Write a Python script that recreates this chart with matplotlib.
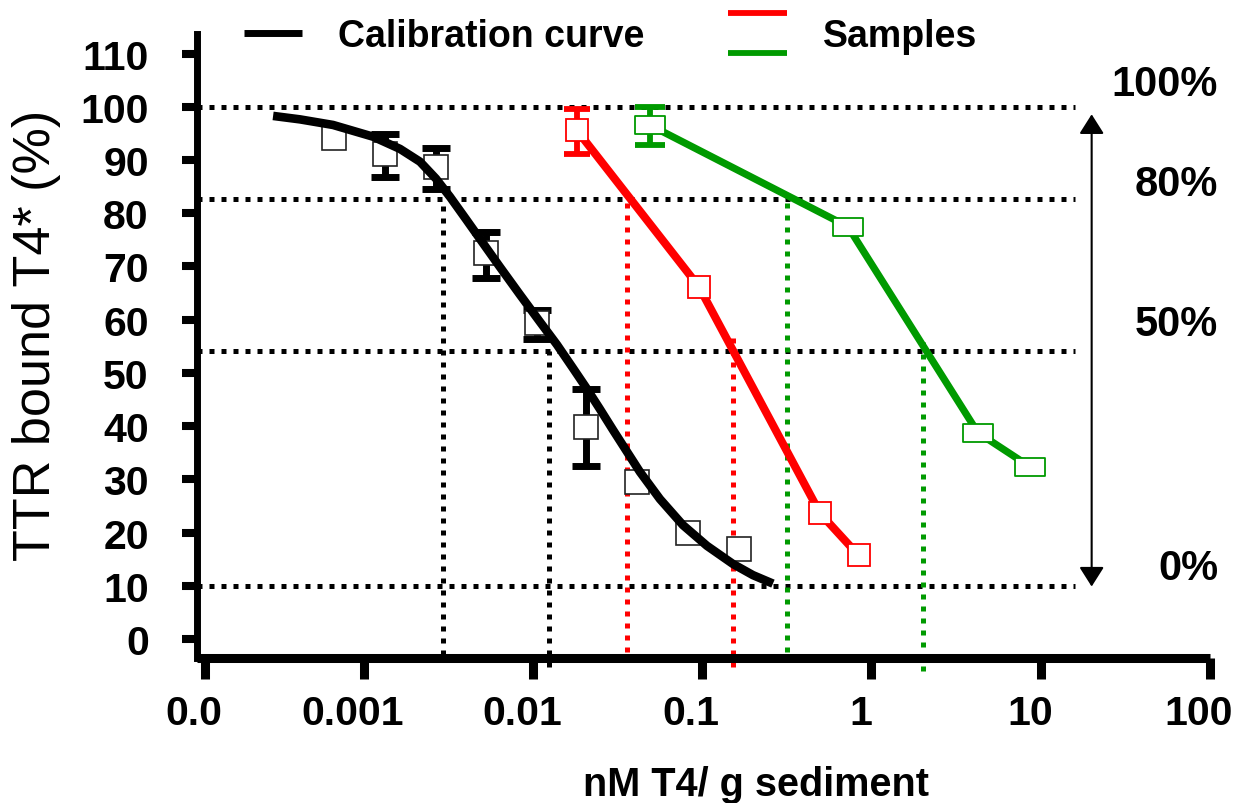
import numpy as np
import matplotlib
matplotlib.use("Agg")
import matplotlib.pyplot as plt
from matplotlib.lines import Line2D
from matplotlib.path import Path
from matplotlib.legend_handler import HandlerBase
from matplotlib.transforms import ScaledTranslation

plt.rcParams['font.family'] = ['Liberation Sans', 'DejaVu Sans']

# ---- data ------------------------------------------------------------------
# calibration standards (open squares) and their error bars
cal_x = [6.66e-4, 1.33e-3, 2.68e-3, 5.28e-3, 1.06e-2, 2.07e-2, 4.14e-2, 8.28e-2, 0.166]
cal_y = [94.2, 91.1, 88.7, 72.5, 59.3, 39.9, 29.5, 19.9, 16.9]
cal_err_lo = [0, 4.3, 4.1, 4.6, 2.9, 7.4, 0, 0, 0]
cal_err_hi = [0, 3.8, 3.5, 4.0, 2.5, 7.0, 0, 0, 0]

# fitted calibration curve
curve_x = [2.92e-4, 4.21e-4, 6.60e-4, 1.136e-3, 1.641e-3, 2.153e-3, 2.677e-3,
           3.238e-3, 4.025e-3, 5.07e-3, 6.39e-3, 8.39e-3, 1.101e-2, 1.388e-2,
           1.725e-2, 2.087e-2, 2.49e-2, 2.972e-2, 3.595e-2, 4.29e-2, 5.63e-2,
           7.7e-2, 0.1068, 0.152, 0.1995, 0.262]
curve_y = [98.3, 97.65, 96.6, 94.4, 92.1, 89.7, 86.5,
           83.1, 78.9, 74.4, 69.9, 64.7, 59.6, 55.3,
           50.9, 47.0, 43.2, 39.3, 35.2, 31.4, 26.3,
           21.4, 17.5, 14.1, 12.0, 10.4]

# samples
red_x = [0.0182, 0.0957, 0.498, 0.841]
red_y = [95.6, 66.2, 23.6, 15.7]
red_err_lo = [4.5, 0, 0, 0]
red_err_hi = [4.0, 0, 0, 0]

green_x = [0.049, 0.726, 4.25, 8.61]
green_y = [96.6, 77.5, 38.8, 32.4]
green_err_lo = [3.7, 0, 0, 0]
green_err_hi = [3.3, 0, 0, 0]

# guide lines: 100 %, 80 %, 50 %, 0 % levels and the read-off concentrations
level_y = [100, 82.6, 54.2, 10.0]
level_x_end = 15.9
black_guide_x = [2.96e-3, 1.25e-2]
black_guide_top = [82.6, 54.2]
black_guide_bottom = [-3.0, -5.3]
red_guide_x = [0.0362, 0.1527]
red_guide_top = [82.6, 57.0]
red_guide_bottom = [-2.5, -5.3]
green_guide_x = [0.3155, 2.006]
green_guide_top = [82.4, 56.1]
green_guide_bottom = [-2.4, -6.0]

arrow_x = 20
arrow_y = [9.85, 98.6]

xtick_vals = [1.16e-4, 1e-3, 1e-2, 1e-1, 1, 10, 100]
xtick_labels = ['0.0', '0.001', '0.01', '0.1', '1', '10', '100']
ytick_vals = list(range(0, 111, 10))

pct_labels = ['100%', '80%', '50%', '0%']
pct_pos_y = [85, 185, 325, 569]   # pixel rows of the percent labels

RED = '#ff0000'
GREEN = '#009a00'
DOTS = (0, (1, 1.4))

fig = plt.figure(figsize=(12.41, 8.04), dpi=100)
ax = fig.add_axes([0.1585, 0.18, 0.8165, 0.7765])
ax.set_xscale('log')
ax.set_xlim(1.033e-4, 100)
ax.set_ylim(-3.63, 113.7)

# dotted guides
ax.hlines(level_y, 1.033e-4, level_x_end, colors='black', linewidth=3.6,
          linestyles=DOTS, capstyle='butt', zorder=1)
for gx, top, bot, col in [(black_guide_x, black_guide_top, black_guide_bottom, 'black'),
                          (red_guide_x, red_guide_top, red_guide_bottom, RED),
                          (green_guide_x, green_guide_top, green_guide_bottom, GREEN)]:
    ax.vlines(gx, bot, top, colors=col, linewidth=3.6, linestyles=DOTS,
              capstyle='butt', zorder=1, clip_on=False)


def draw_errors(xs, ys, lo, hi, color, cap, thick):
    xs, ys, lo, hi = map(np.asarray, (xs, ys, lo, hi))
    m = (lo > 0) | (hi > 0)
    ax.errorbar(xs[m], ys[m], yerr=[lo[m], hi[m]], fmt='none', ecolor=color,
                elinewidth=thick, capsize=cap, capthick=thick, zorder=2)


draw_errors(cal_x, cal_y, cal_err_lo, cal_err_hi, 'black', 10.4, 5)
draw_errors(red_x, red_y, red_err_lo, red_err_hi, RED, 9.5, 4.2)
draw_errors(green_x, green_y, green_err_lo, green_err_hi, GREEN, 10.5, 4.2)

# calibration squares, curve drawn over them
ax.plot(cal_x, cal_y, linestyle='none', marker='s', markersize=17.3,
        markerfacecolor='white', markeredgecolor='#222222', markeredgewidth=1.2, zorder=3)
ax.plot(curve_x, curve_y, color='black', linewidth=6.2, solid_capstyle='butt',
        solid_joinstyle='round', zorder=4)

# samples: lines under white boxes
wide_box = Path([(-1, -0.586), (1, -0.586), (1, 0.586), (-1, 0.586), (-1, -0.586)],
                [Path.MOVETO, Path.LINETO, Path.LINETO, Path.LINETO, Path.CLOSEPOLY])
ax.plot(red_x, red_y, color=RED, linewidth=5.8, zorder=3)
ax.plot(red_x, red_y, linestyle='none', marker='s', markersize=15.5,
        markerfacecolor='white', markeredgecolor=RED, markeredgewidth=1.3, zorder=5)
ax.plot(green_x, green_y, color=GREEN, linewidth=5.2, zorder=3)
ax.plot(green_x, green_y, linestyle='none', marker=wide_box, markersize=20.9,
        markerfacecolor='white', markeredgecolor=GREEN, markeredgewidth=1.3, zorder=5)

# double arrow on the right
ax.annotate('', xy=(arrow_x, arrow_y[0]), xytext=(arrow_x, arrow_y[1]),
            arrowprops=dict(arrowstyle='<|-|>,head_length=0.6,head_width=0.38',
                            mutation_scale=20, color='black', lw=1.5,
                            shrinkA=0, shrinkB=0),
            annotation_clip=False)

# axes styling
for s in ('top', 'right'):
    ax.spines[s].set_visible(False)
ax.spines['left'].set_linewidth(5)
ax.spines['bottom'].set_linewidth(6.5)
ax.spines['bottom'].set_capstyle('butt')

ax.set_xticks(xtick_vals)
ax.set_xticklabels(xtick_labels)
ax.minorticks_off()
ax.set_yticks(ytick_vals)
ax.tick_params(axis='x', length=15, width=6.5, pad=11, labelsize=29.5)
ax.tick_params(axis='y', length=10.6, width=5.8, pad=24, labelsize=29.5)
for lab in ax.get_xticklabels():
    lab.set_fontweight('bold')
    lab.set_transform(lab.get_transform() + ScaledTranslation(-0.11, 0, fig.dpi_scale_trans))
for lab in ax.get_yticklabels():
    lab.set_fontweight('bold')

ax.set_ylabel('TTR bound T4* (%)', fontsize=37.5)
ax.yaxis.set_label_coords(-0.158, 0.5187)
ax.yaxis.label.set_va('center')
ax.set_xlabel('nM T4/ g sediment', fontsize=28.5, fontweight='bold')
ax.xaxis.set_label_coords(0.552, -0.2013)
ax.xaxis.label.set_va('center')

for txt, py in zip(pct_labels, pct_pos_y):
    fig.text(1218 / 1241, 1 - py / 804, txt, ha='right', va='center',
             fontsize=30, fontweight='bold')


# legend: second entry shows a red and a green stroke stacked
class StackedPair(HandlerBase):
    def create_artists(self, legend, orig_handle, xdescent, ydescent,
                       width, height, fontsize, trans):
        c = height / 2 - ydescent
        arts = []
        for h, dy in zip(orig_handle, (14.4, -14.4)):
            arts.append(Line2D([-xdescent, -xdescent + width], [c + dy, c + dy],
                               color=h.get_color(), linewidth=h.get_linewidth(),
                               solid_capstyle='butt', transform=trans))
        return arts


cal_handle = Line2D([], [], color='black', linewidth=5, solid_capstyle='butt')
sample_handle = (Line2D([], [], color=RED, linewidth=4.2),
                 Line2D([], [], color=GREEN, linewidth=4.2))
fig.legend([cal_handle, sample_handle], ['Calibration curve', 'Samples'],
           handler_map={tuple: StackedPair()}, ncol=2, frameon=False,
           loc='center left', bbox_to_anchor=(243.6 / 1241, 1 - 37 / 804),
           borderpad=0, borderaxespad=0, handlelength=1.57, handletextpad=0.96,
           columnspacing=2.23, prop={'size': 27, 'weight': 'bold'})

fig.savefig('out.png', dpi=100)
